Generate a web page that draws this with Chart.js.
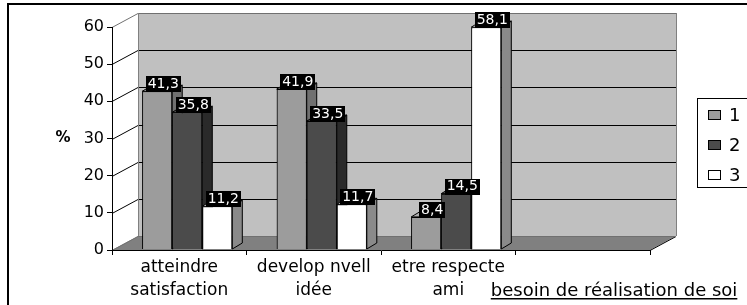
<!DOCTYPE html>
<html>
<head>
<meta charset="utf-8">
<script src="https://cdn.jsdelivr.net/npm/chart.js@4.4.1/dist/chart.umd.min.js"></script>
<style>
body{margin:0;background:#fff;}
#wrap{width:747px;height:305px;position:relative;}
</style>
</head>
<body>
<div id="wrap"><canvas id="mycanvas"></canvas></div>
<script>
// data
var categories=[["atteindre","satisfaction"],["develop nvell","idée"],["etre respecte","ami"],""];
var extraLabel="besoin de réalisation de soi";
var serie1=[41.3,41.9,8.4,null];
var serie2=[35.8,33.5,14.5,null];
var serie3=[11.2,11.7,58.1,null];
var seriesNames=["1","2","3"];
var yTicks=[0,10,20,30,40,50,60];

var F="'DejaVu Sans', Arial, sans-serif";
var DX=10, DY=6;      // depth of the bars
var WX=26, WY=14;     // depth of the walls
var SX=8, SY=-1;      // bars sit a bit behind the front edge

function fmt(v){ return v.toFixed(1).replace('.',','); }

//-----------------------------------------------------------------------------------------

var excel3d={
    id:'excel3d',
    beforeDraw:function(chart){
        var ctx=chart.ctx, a=chart.chartArea, yf=chart.scales.yf;
        var y0=yf.getPixelForValue(0), yt=yf.getPixelForValue(60);
        ctx.save();
        ctx.strokeStyle='#000'; ctx.lineWidth=2;
        ctx.strokeRect(8,4,800,400);
        // back wall
        ctx.fillStyle='#c0c0c0';
        ctx.fillRect(a.left+WX, yt-WY, a.right-a.left, y0-yt);
        // floor
        ctx.fillStyle='#808080';
        ctx.beginPath();
        ctx.moveTo(a.left,y0); ctx.lineTo(a.left+WX,y0-WY);
        ctx.lineTo(a.right+WX,y0-WY); ctx.lineTo(a.right,y0);
        ctx.closePath(); ctx.fill();
        ctx.lineWidth=1;
        ctx.strokeStyle='#000';
        ctx.beginPath();
        ctx.moveTo(a.right,y0+0.5); ctx.lineTo(a.right+WX,y0-WY+0.5);
        ctx.stroke();
        // gridlines on side wall and back wall
        yTicks.forEach(function(v){
            var y=Math.round(yf.getPixelForValue(v))+0.5;
            ctx.strokeStyle=(v==0||v==60)?'#707070':'#000';
            ctx.beginPath();
            ctx.moveTo(a.left,y); ctx.lineTo(a.left+WX,y-WY); ctx.lineTo(a.right+WX,y-WY);
            ctx.stroke();
        });
        ctx.strokeStyle='#808080';
        ctx.beginPath();
        ctx.moveTo(a.left+WX+0.5,yt-WY); ctx.lineTo(a.left+WX+0.5,y0-WY);
        ctx.moveTo(a.right+WX+0.5,yt-WY); ctx.lineTo(a.right+WX+0.5,y0-WY);
        ctx.stroke();
        ctx.restore();
    },
    beforeDatasetsDraw:function(chart){
        chart.ctx.save();
        chart.ctx.translate(SX,SY);
    },
    afterDatasetsDraw:function(chart){
        var ctx=chart.ctx;
        // repaint in series order so sides hide behind the next bar
        chart.data.datasets.forEach(function(ds,i){
            chart.getDatasetMeta(i).data.forEach(function(bar,j){
                if(ds.data[j]==null) return;
                var p=bar.getProps(['x','y','base','width'],true);
                var x0=p.x-p.width/2, x1=p.x+p.width/2;
                bar.draw(ctx);
                ctx.lineWidth=1; ctx.strokeStyle='#000'; ctx.lineJoin='miter';
                ctx.fillStyle=ds.sideColor;
                ctx.beginPath();
                ctx.moveTo(x1,p.y); ctx.lineTo(x1+DX,p.y-DY); ctx.lineTo(x1+DX,p.base-DY); ctx.lineTo(x1,p.base);
                ctx.closePath(); ctx.fill(); ctx.stroke();
                ctx.fillStyle=ds.topColor;
                ctx.beginPath();
                ctx.moveTo(x0,p.y); ctx.lineTo(x0+DX,p.y-DY); ctx.lineTo(x1+DX,p.y-DY); ctx.lineTo(x1,p.y);
                ctx.closePath(); ctx.fill(); ctx.stroke();
            });
        });
        // value boxes
        ctx.font='14px '+F;
        ctx.textAlign='center'; ctx.textBaseline='middle';
        chart.data.datasets.forEach(function(ds,i){
            chart.getDatasetMeta(i).data.forEach(function(bar,j){
                if(ds.data[j]==null) return;
                var p=bar.getProps(['x','y'],true);
                var t=fmt(ds.data[j]);
                var w=ctx.measureText(t).width+4;
                var cx=p.x+6;
                ctx.fillStyle='#000';
                ctx.fillRect(Math.round(cx-w/2),Math.round(p.y-15),Math.round(w),16);
                ctx.fillStyle='#fff';
                ctx.fillText(t,cx,p.y-7);
            });
        });
        ctx.restore();
    },
    afterDraw:function(chart){
        var ctx=chart.ctx, xs=chart.scales.x, yf=chart.scales.yf;
        ctx.save();
        // underlined label under the 4th category
        ctx.font='18px '+F;
        ctx.fillStyle='#000'; ctx.textAlign='left'; ctx.textBaseline='alphabetic';
        var lx=xs.getPixelForValue(3)-92, ly=296;
        ctx.fillText(extraLabel,lx,ly);
        var lw=ctx.measureText(extraLabel).width;
        ctx.fillRect(lx,ly+2,lw,1.5);
        // % label
        ctx.font='bold 15px '+F;
        ctx.textAlign='center'; ctx.textBaseline='middle';
        ctx.fillText('%',63,yf.getPixelForValue(30));
        // legend
        ctx.fillStyle='#fff';
        ctx.fillRect(697,98,100,89);
        ctx.strokeStyle='#000'; ctx.lineWidth=1;
        ctx.strokeRect(697.5,98.5,100,89);
        ctx.font='18px '+F; ctx.textAlign='left';
        chart.data.datasets.forEach(function(ds,i){
            var cy=115+i*30;
            ctx.fillStyle=ds.backgroundColor;
            ctx.fillRect(708,cy-5,13,10);
            ctx.strokeRect(708.5,cy-4.5,12,9);
            ctx.fillStyle='#000';
            ctx.fillText(ds.label,729,cy+1);
        });
        ctx.restore();
    }
};

//-----------------------------------------------------------------------------------------

const canvas=document.getElementById("mycanvas");
const ctx=canvas.getContext("2d");
var chart=new Chart(ctx,{
    type:"bar",
    data:{
        labels:categories,
        datasets:[
            {label:seriesNames[0],data:serie1,backgroundColor:"#9c9c9c",sideColor:"#707070",topColor:"#b0b0b0"},
            {label:seriesNames[1],data:serie2,backgroundColor:"#4b4b4b",sideColor:"#2a2a2a",topColor:"#5e5e5e"},
            {label:seriesNames[2],data:serie3,backgroundColor:"#ffffff",sideColor:"#8a8a8a",topColor:"#f4f4f4"}
        ]
    },
    options:{
        responsive:true,
        maintainAspectRatio:false,
        animation:false,
        layout:{padding:{top:27,right:97,left:0,bottom:0}},
        datasets:{bar:{categoryPercentage:0.67,barPercentage:1,borderWidth:1,borderColor:"#000",clip:false}},
        plugins:{legend:{display:false},tooltip:{enabled:false}},
        scales:{
            x:{
                grid:{offset:true,drawOnChartArea:false,color:"#000",tickLength:5},
                border:{color:"#000"},
                ticks:{color:"#000",font:{family:F,size:17,lineHeight:1.3},padding:2,maxRotation:0,autoSkip:false},
                afterFit:function(s){s.height=55;}
            },
            y:{display:false,min:0,max:58.4},
            yf:{
                position:"left",min:0,max:60,
                afterBuildTicks:function(s){s.ticks=yTicks.map(function(v){return {value:v};});},
                grid:{drawOnChartArea:false,color:"#000",tickLength:5},
                border:{color:"#000"},
                ticks:{color:"#000",font:{family:F,size:16},padding:3},
                afterFit:function(s){s.width=112;}
            }
        }
    },
    plugins:[excel3d]
});
</script>
</body>
</html>
